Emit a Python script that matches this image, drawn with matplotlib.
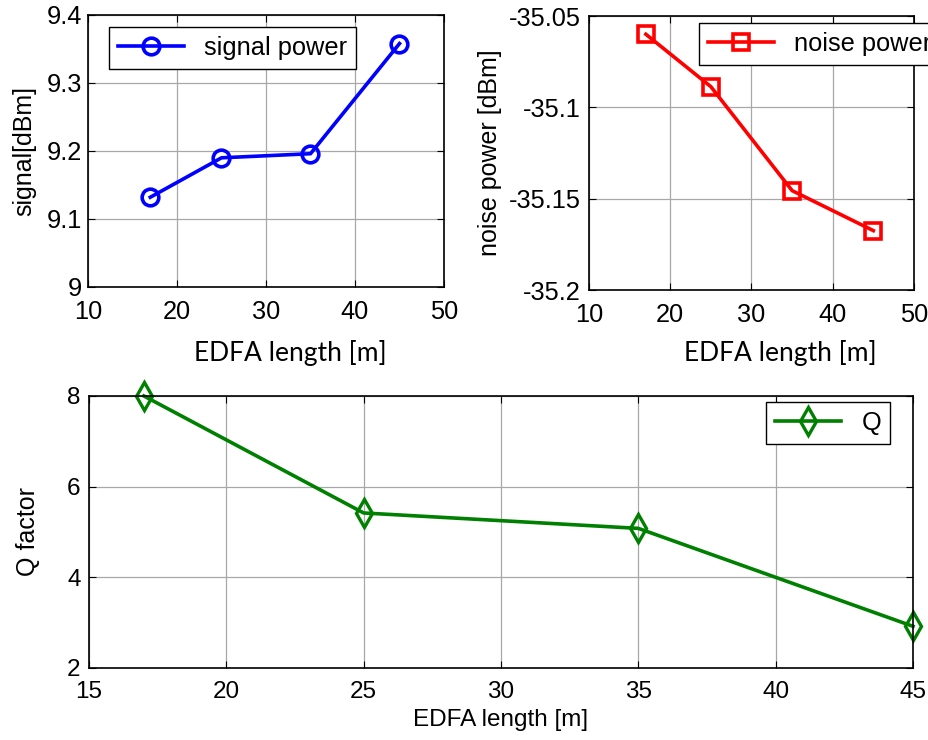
import matplotlib
matplotlib.use("Agg")
import matplotlib.pyplot as plt

# data
edfa_length = [17, 25, 35, 45]
signal_power = [9.132, 9.190, 9.196, 9.358]
noise_power = [-35.060, -35.0887, -35.1456, -35.1675]
q_factor = [8.0, 5.42, 5.08, 2.92]

W, H = 929, 740
fig = plt.figure(figsize=(W / 100, H / 100), dpi=100)

def rect(l, t, r, b):
    return [l / W, 1 - b / H, (r - l) / W, (b - t) / H]

sans = ["Liberation Sans", "DejaVu Sans"]
lato = ["Lato", "DejaVu Sans"]
TICK = 18.3

def style(ax, size, ypad):
    ax.grid(True, color="#a8a8a8", lw=0.9)
    ax.set_axisbelow(True)
    ax.tick_params(direction="in", top=True, right=True, length=5, width=0.8)
    ax.tick_params(axis="x", pad=9.5)
    ax.tick_params(axis="y", pad=ypad)
    for lab in ax.get_xticklabels() + ax.get_yticklabels():
        lab.set_fontfamily(sans)
        lab.set_fontsize(size)
    for s in ax.spines.values():
        s.set_linewidth(1.2)

def legend(ax, x, y, size):
    leg = ax.legend(loc="upper left", bbox_to_anchor=(x / W, 1 - y / H),
                    bbox_transform=fig.transFigure, prop=dict(family=sans, size=size),
                    fancybox=False, edgecolor="black", framealpha=1, handlelength=2.6,
                    borderpad=0.35, borderaxespad=0)
    leg.get_frame().set_linewidth(1.0)

# top left
ax1 = fig.add_axes(rect(88, 15, 444, 287))
ax1.plot(edfa_length, signal_power, color="#0000FF", lw=2.6, marker="o",
         ms=12, mfc="none", mew=2.6, label="signal power", clip_on=False)
ax1.set_xlim(10, 50)
ax1.set_ylim(9.0, 9.4)
ax1.set_xticks([10, 20, 30, 40, 50])
ax1.set_yticks([9.0, 9.1, 9.2, 9.3, 9.4])
ax1.set_yticklabels(["9", "9.1", "9.2", "9.3", "9.4"])
style(ax1, TICK, 4.5)
ax1.set_xlabel("EDFA length [m]", family=lato, size=19)
ax1.xaxis.set_label_coords(0.567, -66 / 272, transform=ax1.transAxes)
ax1.xaxis.label.set_va("center")
ax1.set_ylabel("signal[dBm]", family=sans, size=18)
ax1.yaxis.set_label_coords(-64 / 356, 0.5)
ax1.yaxis.label.set_va("center")
legend(ax1, 109, 27, TICK)

# top right
ax2 = fig.add_axes(rect(589, 16, 914, 290))
ax2.plot(edfa_length, noise_power, color="#FF0000", lw=2.6, marker="s",
         ms=12, mfc="none", mew=2.6, label="noise power", clip_on=False)
ax2.set_xlim(10, 50)
ax2.set_ylim(-35.2, -35.05)
ax2.set_xticks([10, 20, 30, 40, 50])
ax2.set_yticks([-35.2, -35.15, -35.1, -35.05])
ax2.set_yticklabels(["-35.2", "-35.15", "-35.1", "-35.05"])
style(ax2, TICK, 6)
ax2.set_xlabel("EDFA length [m]", family=lato, size=19)
ax2.xaxis.set_label_coords(0.588, -63 / 274, transform=ax2.transAxes)
ax2.xaxis.label.set_va("center")
ax2.set_ylabel("noise power [dBm]", family=sans, size=18)
ax2.yaxis.set_label_coords(-99 / 325, 0.5)
ax2.yaxis.label.set_va("center")
legend(ax2, 699, 23, TICK)

# bottom
ax3 = fig.add_axes(rect(89, 396, 913, 668))
ax3.plot(edfa_length, q_factor, color="#008000", lw=2.6, marker="d",
         ms=14, mfc="none", mew=2.4, label="Q", clip_on=False)
ax3.set_xlim(15, 45)
ax3.set_ylim(2, 8)
ax3.set_xticks([15, 20, 25, 30, 35, 40, 45])
ax3.set_yticks([2, 4, 6, 8])
style(ax3, 17.5, 6)
ax3.set_xlabel("EDFA length [m]", family=sans, size=17.5)
ax3.xaxis.set_label_coords(0.5, -52 / 272)
ax3.xaxis.label.set_va("center")
ax3.set_ylabel("Q factor", family=sans, size=18)
ax3.yaxis.set_label_coords(-61 / 824, 0.5)
ax3.yaxis.label.set_va("center")
legend(ax3, 766, 402, 18.3)

fig.savefig("out.png", dpi=100)
